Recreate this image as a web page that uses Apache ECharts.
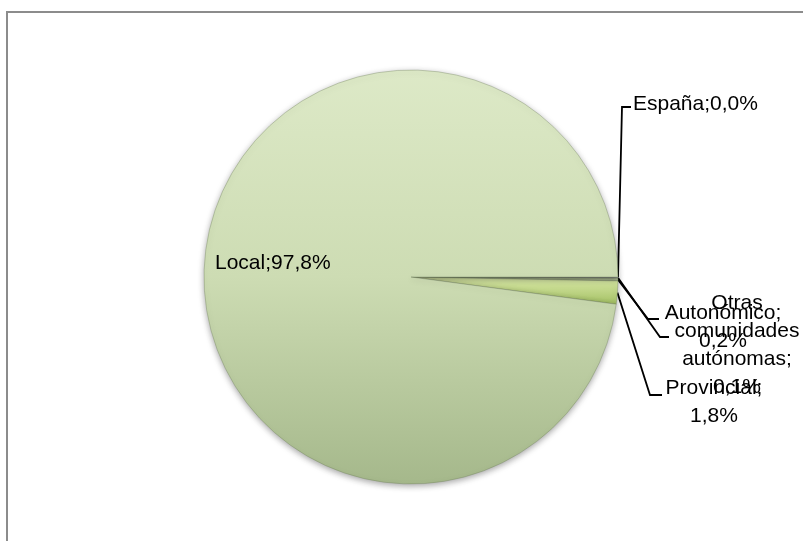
<!DOCTYPE html>
<html>
<head>
<meta charset="utf-8">
<script src="https://cdn.jsdelivr.net/npm/echarts@6/dist/echarts.min.js"></script>
<style>
html,body{margin:0;padding:0;background:#fff;}
#chart{width:803px;height:541px;}
</style>
</head>
<body>
<div id="chart"></div>
<script>
// ---- data ----
const categories = ['España', 'Otras comunidades autónomas', 'Autonómico', 'Provincial', 'Local'];
const labelNames = ['España', 'Otras\ncomunidades\nautónomas', 'Autonómico', 'Provincial', 'Local'];
const values = [0.0, 0.1, 0.2, 1.8, 97.8];
const breakBeforeValue = [false, true, true, true, false];

// ---- styling / layout (not data) ----
const sliceColors = [
  '#c9d9a8',
  '#a8a8a8',
  '#b5c39a',
  {type:'linear',x:0,y:0,x2:0,y2:1,colorStops:[{offset:0,color:'#dcebab'},{offset:1,color:'#a3c063'}]},
  {type:'linear',x:0,y:0,x2:0,y2:1,colorStops:[{offset:0,color:'#dde9c7'},{offset:0.5,color:'#cddcb3'},{offset:1,color:'#a5b88b'}]}
];
const labelPlacement = [
  {x:633, y:104, align:'left', elbow:[622,107], end:[631,107]},
  {x:737, y:345, align:'center', elbow:[660,337], end:[669,337]},
  {x:723, y:327, align:'center', elbow:[648,319], end:[659,319]},
  {x:714, y:402, align:'center', elbow:[650,395], end:[662,395]},
  {x:215, y:263, align:'left'}
];

const fmt = v => v.toFixed(1).replace('.', ',') + '%';

const seriesData = categories.map((c, i) => ({
  name: c,
  value: values[i],
  itemStyle: {color: sliceColors[i]},
  label: {
    formatter: labelNames[i] + ';' + (breakBeforeValue[i] ? '\n' : '') + fmt(values[i]),
    position: i === 4 ? 'inside' : 'outside'
  },
  labelLine: {show: i !== 4}
}));

const chart = echarts.init(document.getElementById('chart'), null, {renderer:'canvas'});
chart.setOption({
  animation: false,
  backgroundColor: '#ffffff',
  graphic: [{
    type: 'rect', z: -10,
    shape: {x: 7, y: 12, width: 900, height: 700},
    style: {fill: 'none', stroke: '#8c8c8c', lineWidth: 2}
  }],
  series: [{
    type: 'pie',
    center: [411, 277],
    radius: [0, 207],
    startAngle: 0,
    clockwise: true,
    avoidLabelOverlap: false,
    itemStyle: {
      borderColor: 'rgba(110,125,90,0.6)',
      borderWidth: 0.6,
      shadowBlur: 6,
      shadowColor: 'rgba(0,0,0,0.35)',
      shadowOffsetY: 2
    },
    label: {
      color: '#000',
      fontFamily: 'Liberation Sans',
      fontSize: 21,
      lineHeight: 28
    },
    labelLine: {
      show: true,
      length: 10,
      length2: 10,
      lineStyle: {color: '#000', width: 1.8}
    },
    labelLayout: function (p) {
      const L = labelPlacement[p.dataIndex];
      const res = {x: L.x, y: L.y, align: L.align, verticalAlign: 'middle'};
      if (L.elbow && p.labelLinePoints) {
        res.labelLinePoints = [p.labelLinePoints[0], L.elbow, L.end];
      }
      return res;
    },
    data: seriesData
  }]
});
</script>
</body>
</html>
